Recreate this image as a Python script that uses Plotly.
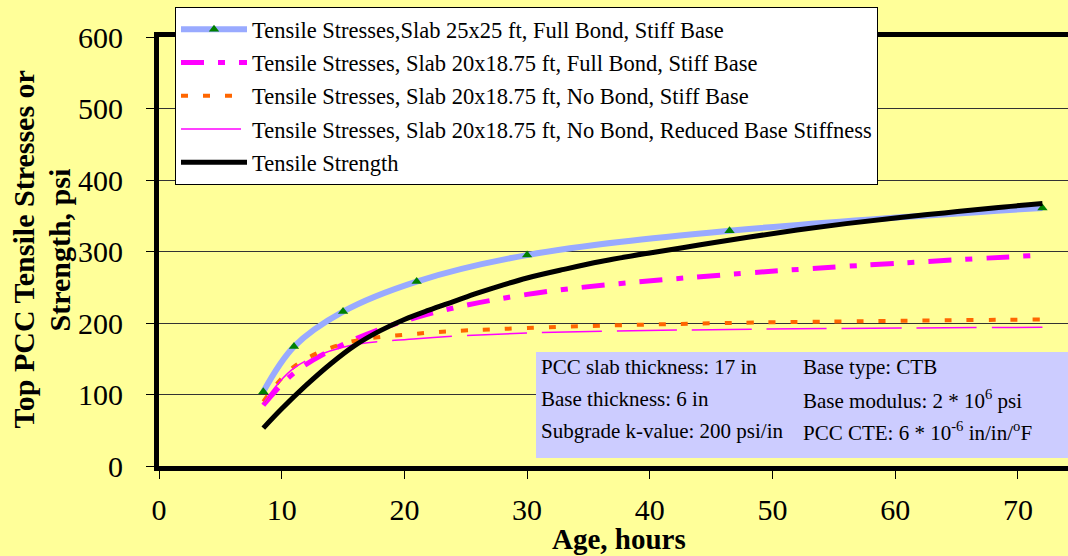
import plotly.graph_objects as go

# ---- data ----
age = [8.5, 11, 15, 21, 30, 46.5, 72]
stress_25x25_full_stiff = [104, 167, 216, 258, 295, 329, 361]
stress_20_full_stiff = [85, 130, 170, 208, 240, 268, 295]
stress_20_nobond_stiff = [90, 139, 171, 185, 193, 200, 205]
stress_20_nobond_reduced = [88, 137, 166, 178, 186, 191, 194]

strength_age = [8.5, 10, 12, 14, 16, 18, 20, 22, 24, 26, 28, 30, 33, 36, 40, 44, 48, 52, 56, 60, 64, 68, 72]
strength = [53, 80, 113, 143, 169, 189, 205, 218, 230, 242, 253, 263, 275, 286, 298, 309, 320, 330, 339, 347, 354, 361, 367]

names = [
    "Tensile Stresses,Slab 25x25 ft, Full Bond, Stiff Base",
    "Tensile Stresses, Slab 20x18.75 ft, Full Bond, Stiff Base",
    "Tensile Stresses, Slab 20x18.75 ft, No Bond, Stiff Base",
    "Tensile Stresses, Slab 20x18.75 ft, No Bond, Reduced Base Stiffness",
    "Tensile Strength",
]
x_ticks = [0, 10, 20, 30, 40, 50, 60, 70]
y_ticks = [0, 100, 200, 300, 400, 500, 600]

y_title_lines = ["Top PCC Tensile Stresses or", "Strength, psi"]
x_title = "Age, hours"
info_left = ["PCC slab thickness: 17 in", "Base thickness: 6 in", "Subgrade k-value: 200 psi/in"]
info_right = ["Base type: CTB", "Base modulus: 2 * 10<sup>6</sup> psi",
              "PCC CTE: 6 * 10<sup>-6</sup> in/in/<sup>o</sup>F"]

FONT = "'Liberation Serif', 'Times New Roman', serif"
BG = "#FFFF99"

fig = go.Figure()
fig.add_trace(go.Scatter(x=age, y=stress_25x25_full_stiff, name=names[0], mode="lines+markers",
                         line=dict(color="#99AAFF", width=6, shape="spline"),
                         marker=dict(symbol="triangle-up", size=9, color="#008000"),
                         legendgroup="a"))
fig.add_trace(go.Scatter(x=age, y=stress_20_full_stiff, name=names[1], mode="lines",
                         line=dict(color="#FF00FF", width=5, shape="spline", dash="23px,14px,7px,14px"),
                         legendgroup="b"))
fig.add_trace(go.Scatter(x=age, y=stress_20_nobond_stiff, name=names[2], mode="lines",
                         line=dict(color="#FF6600", width=4, shape="spline", dash="7px,15px"),
                         legendgroup="c"))
fig.add_trace(go.Scatter(x=age, y=stress_20_nobond_reduced, name=names[3], mode="lines",
                         line=dict(color="#FF00FF", width=1.5, shape="spline", dash="60px,15px"),
                         legendgroup="d"))
fig.add_trace(go.Scatter(x=strength_age, y=strength, name=names[4], mode="lines",
                         line=dict(color="black", width=5, shape="spline"),
                         legendgroup="e"))

W, H = 1068, 556
L, R, T, B = 159, 0, 37, 90
pw, ph = W - L - R, H - T - B
xmax = pw / 12.27


def px_x(p):
    return (p - L) / pw


def px_y(p):
    return (H - B - p) / ph


fig.update_layout(
    width=W, height=H,
    margin=dict(l=L, r=R, t=T, b=B, autoexpand=False),
    paper_bgcolor=BG, plot_bgcolor=BG,
    font=dict(family=FONT, color="black"),
    showlegend=True,
    legend=dict(x=px_x(175), y=px_y(7), xanchor="left", yanchor="top",
                bgcolor="white", bordercolor="black", borderwidth=1,
                font=dict(family=FONT, size=22.5, color="black"),
                tracegroupgap=1, itemwidth=66),
    xaxis=dict(range=[0, xmax], tickvals=x_ticks, ticks="outside", ticklen=8, tickwidth=1,
               tickcolor="black", showgrid=False, zeroline=False,
               showline=True, linecolor="black", linewidth=5, mirror=True,
               ticklabelstandoff=5,
               tickfont=dict(family=FONT, size=30, color="black")),
    yaxis=dict(range=[0, 600], tickvals=y_ticks, ticks="outside", ticklen=8, tickwidth=1,
               tickcolor="black", showgrid=True, gridcolor="#333333", gridwidth=1,
               zeroline=False, showline=True, linecolor="black", linewidth=5,
               ticklabelstandoff=17,
               tickfont=dict(family=FONT, size=30, color="black")),
)

# axis titles
for xp, line in zip([23.5, 59.5], y_title_lines):
    fig.add_annotation(x=px_x(xp), y=px_y(250), xref="paper", yref="paper",
                       text="<b>" + line + "</b>", textangle=-90,
                       showarrow=False, xanchor="center", yanchor="middle",
                       font=dict(family=FONT, size=30, color="black"))
fig.add_annotation(x=px_x(619), y=px_y(539), xref="paper", yref="paper",
                   text="<b>" + x_title + "</b>", showarrow=False, xanchor="center", yanchor="middle",
                   font=dict(family=FONT, size=29, color="black"))

# info box
fig.add_shape(type="rect", xref="paper", yref="paper", x0=px_x(536), x1=px_x(1070),
              y0=px_y(458), y1=px_y(352), fillcolor="#CCCCFF", line=dict(width=0), layer="above")
rows_y = [367, 399, 431]
for i in range(3):
    fig.add_annotation(x=px_x(539), y=px_y(rows_y[i]), xref="paper", yref="paper",
                       text=info_left[i], showarrow=False, xanchor="left", yanchor="middle",
                       font=dict(family=FONT, size=21, color="black"))
    fig.add_annotation(x=px_x(801), y=px_y(rows_y[i]), xref="paper", yref="paper",
                       text=info_right[i], showarrow=False, xanchor="left", yanchor="middle",
                       font=dict(family=FONT, size=21, color="black"))

fig.write_html("out.html", config={"displayModeBar": False},
               post_script="document.body.style.margin='0';document.body.style.overflow='hidden';")
